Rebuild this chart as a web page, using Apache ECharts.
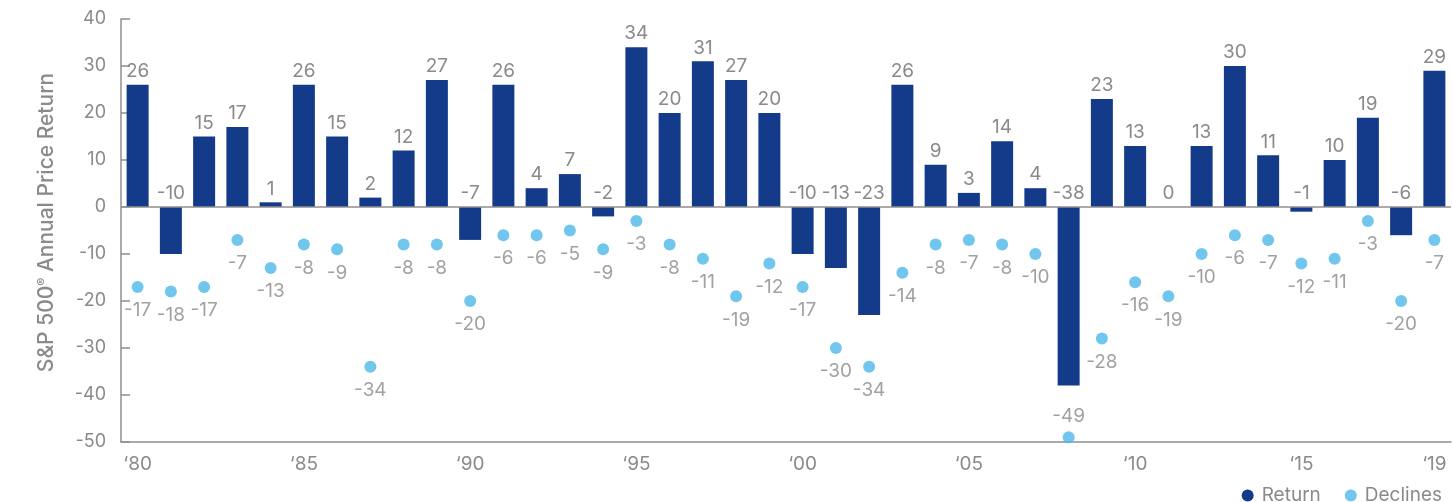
<!DOCTYPE html>
<html>
<head>
<meta charset="utf-8">
<script src="https://cdn.jsdelivr.net/npm/echarts@6/dist/echarts.min.js"></script>
<style>
  html, body { margin: 0; padding: 0; background: #ffffff; }
  #chart { width: 1453px; height: 502px; }
</style>
</head>
<body>
<div id="chart"></div>
<script>
const years = ['1980','1981','1982','1983','1984','1985','1986','1987','1988','1989',
               '1990','1991','1992','1993','1994','1995','1996','1997','1998','1999',
               '2000','2001','2002','2003','2004','2005','2006','2007','2008','2009',
               '2010','2011','2012','2013','2014','2015','2016','2017','2018','2019'];
const returns = [26,-10,15,17,1,26,15,2,12,27,
                 -7,26,4,7,-2,34,20,31,27,20,
                 -10,-13,-23,26,9,3,14,4,-38,23,
                 13,0,13,30,11,-1,10,19,-6,29];
const declines = [-17,-18,-17,-7,-13,-8,-9,-34,-8,-8,
                  -20,-6,-6,-5,-9,-3,-8,-11,-19,-12,
                  -17,-30,-34,-14,-8,-7,-8,-10,-49,-28,
                  -16,-19,-10,-6,-7,-12,-11,-3,-20,-7];
const tickYears = ['1980','1985','1990','1995','2000','2005','2010','2015','2019'];
const tickLabels = ['\u201880','\u201885','\u201890','\u201895','\u201800','\u201805','\u201810','\u201815','\u201819'];
const yTicks = { min: -50, max: 40, step: 10 };

const FONT = 'Inter, "Liberation Sans", Arial, sans-serif';
const GREY = '#8a8a8a';
const AXIS = '#8f8f8f';
const NAVY = '#143b8a';
const SKY = '#4db8e9';

const chart = echarts.init(document.getElementById('chart'), null, { renderer: 'canvas' });

const declineData = declines.map(v => (v <= -45)
  ? { value: v, label: { position: 'top', distance: 6 } }
  : v);

chart.setOption({
  animation: false,
  backgroundColor: '#ffffff',
  textStyle: { fontFamily: FONT },
  grid: { left: 121, top: 19, width: 1330, height: 423, containLabel: false },
  legend: {
    data: ['Return', 'Declines'],
    right: 6,
    top: 481,
    icon: 'circle',
    itemWidth: 12,
    itemHeight: 12,
    itemGap: 24,
    textStyle: { color: GREY, fontSize: 19, fontFamily: FONT, padding: [0, 0, 0, 3] }
  },
  xAxis: {
    type: 'category',
    data: years,
    boundaryGap: true,
    axisLine: { onZero: false, lineStyle: { color: AXIS, width: 1.5 } },
    axisTick: { show: false },
    splitLine: { show: false },
    axisLabel: {
      interval: 0,
      color: GREY,
      fontSize: 19,
      fontFamily: FONT,
      margin: 13,
      formatter: function (v) {
        const i = tickYears.indexOf(v);
        return i >= 0 ? tickLabels[i] : '';
      }
    }
  },
  yAxis: {
    type: 'value',
    min: yTicks.min,
    max: yTicks.max,
    interval: yTicks.step,
    name: 'S&P 500{sup|®} Annual Price Return',
    nameLocation: 'middle',
    nameGap: 64,
    nameTextStyle: {
      color: GREY, fontSize: 21, fontFamily: FONT, fontWeight: 500,
      padding: [0, 0, 0, 16],
      rich: { sup: { fontSize: 12, color: GREY, fontFamily: FONT, fontWeight: 500, verticalAlign: 'top', padding: [0, 0, 9, 0] } }
    },
    axisLine: { show: true, lineStyle: { color: AXIS, width: 1.5 } },
    axisTick: { show: true, inside: true, length: 9, lineStyle: { color: AXIS, width: 1.5 } },
    splitLine: { show: false },
    axisLabel: { color: GREY, fontSize: 18, fontFamily: FONT, margin: 15 }
  },
  series: [
    {
      name: 'Return',
      type: 'bar',
      data: returns,
      barWidth: 22,
      itemStyle: { color: NAVY },
      label: {
        show: true,
        position: 'top',
        distance: 4,
        color: GREY,
        fontSize: 19,
        fontFamily: FONT
      },
      markLine: {
        silent: true,
        symbol: 'none',
        label: { show: false },
        lineStyle: { color: AXIS, width: 1.5, type: 'solid' },
        data: [{ yAxis: 0 }]
      },
      z: 2
    },
    {
      name: 'Declines',
      type: 'scatter',
      data: declineData,
      symbol: 'circle',
      symbolSize: 12,
      itemStyle: { color: SKY },
      label: {
        show: true,
        position: 'bottom',
        distance: 8,
        color: GREY,
        fontSize: 19,
        fontFamily: FONT
      },
      z: 3
    }
  ]
});
</script>
</body>
</html>
